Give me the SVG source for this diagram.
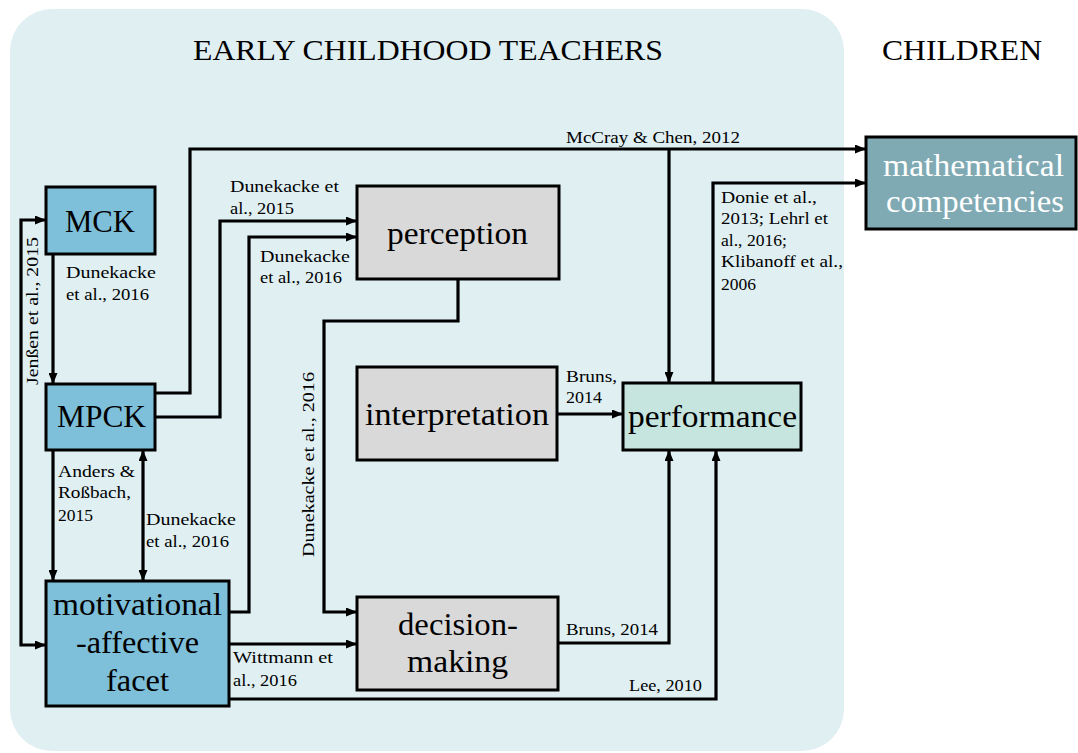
<svg xmlns="http://www.w3.org/2000/svg" width="1078" height="753" viewBox="0 0 1078 753">
<style>
text{font-family:'Liberation Serif','Times New Roman',serif;fill:#000}
.tt{font-size:30px}
.nt{font-size:31px}
.lb{font-size:17px}
.box{stroke:#000;stroke-width:3}
.ln{fill:none;stroke:#000;stroke-width:3.2}
.blue{fill:#7ebfda}
.grey{fill:#d9d9d9}
.teal{fill:#c6e5df}
.dark{fill:#7faab4}
</style>
<defs>
<marker id="ah" viewBox="0 0 10 10" refX="10" refY="5" markerWidth="11" markerHeight="9" preserveAspectRatio="none" markerUnits="userSpaceOnUse" orient="auto-start-reverse"><path d="M0,0 L10,5 L0,10 z" fill="#000"/></marker>
</defs>
<rect x="10" y="9" width="834" height="742" rx="42" fill="#dfeff2"/>
<text class="tt" x="193" y="60" textLength="470" lengthAdjust="spacingAndGlyphs">EARLY CHILDHOOD TEACHERS</text>
<text class="tt" x="882" y="60" textLength="160" lengthAdjust="spacingAndGlyphs">CHILDREN</text>

<g id="mck"><rect class="box blue" x="46" y="187" width="109" height="67"/><text class="nt" x="65" y="232" textLength="70" lengthAdjust="spacingAndGlyphs">MCK</text></g>
<g id="mpck"><rect class="box blue" x="46" y="384" width="109" height="66"/><text class="nt" x="57" y="427" textLength="89" lengthAdjust="spacingAndGlyphs">MPCK</text></g>
<g id="motivational"><rect class="box blue" x="46" y="581" width="183" height="125"/><text class="nt" x="53" y="615" textLength="169" lengthAdjust="spacingAndGlyphs">motivational</text><text class="nt" x="76" y="653" textLength="123" lengthAdjust="spacingAndGlyphs">-affective</text><text class="nt" x="106" y="691" textLength="63" lengthAdjust="spacingAndGlyphs">facet</text></g>
<g id="perception"><rect class="box grey" x="357" y="186" width="202" height="93"/><text class="nt" x="387" y="244" textLength="141" lengthAdjust="spacingAndGlyphs">perception</text></g>
<g id="interpretation"><rect class="box grey" x="357" y="367" width="200" height="93"/><text class="nt" x="365" y="425" textLength="184" lengthAdjust="spacingAndGlyphs">interpretation</text></g>
<g id="decision-making"><rect class="box grey" x="357" y="597" width="201" height="93"/><text class="nt" x="398" y="635" textLength="120" lengthAdjust="spacingAndGlyphs">decision-</text><text class="nt" x="407" y="672" textLength="101" lengthAdjust="spacingAndGlyphs">making</text></g>
<g id="performance"><rect class="box teal" x="623" y="383" width="178" height="67"/><text class="nt" x="628" y="427" textLength="169" lengthAdjust="spacingAndGlyphs">performance</text></g>
<g id="math"><rect class="box dark" x="866" y="137" width="210" height="92"/><text class="nt" x="883" y="176" textLength="181" lengthAdjust="spacingAndGlyphs" style="fill:#fff">mathematical</text><text class="nt" x="886" y="212" textLength="178" lengthAdjust="spacingAndGlyphs" style="fill:#fff">competencies</text></g>

<g id="connectors">
<path class="ln" d="M155,393 H190 V149 H866" marker-end="url(#ah)"/>
<path class="ln" d="M669,149 V383" marker-end="url(#ah)"/>
<path class="ln" d="M155,417 H220 V221 H357" marker-end="url(#ah)"/>
<path class="ln" d="M229,612 H249 V237 H357" marker-end="url(#ah)"/>
<path class="ln" d="M46,220 H21 V645 H46" marker-start="url(#ah)" marker-end="url(#ah)"/>
<path class="ln" d="M53,254 V384" marker-end="url(#ah)"/>
<path class="ln" d="M53,450 V581" marker-end="url(#ah)"/>
<path class="ln" d="M143,450 V581" marker-start="url(#ah)" marker-end="url(#ah)"/>
<path class="ln" d="M458,279 V321 H324 V612 H357" marker-end="url(#ah)"/>
<path class="ln" d="M229,644 H357" marker-end="url(#ah)"/>
<path class="ln" d="M557,414 H623" marker-end="url(#ah)"/>
<path class="ln" d="M558,643 H669 V450" marker-end="url(#ah)"/>
<path class="ln" d="M229,699 H716 V450" marker-end="url(#ah)"/>
<path class="ln" d="M713,383 V183 H866" marker-end="url(#ah)"/>
</g>

<g id="labels">
<text class="lb" transform="translate(38,385) rotate(-90)" textLength="148" lengthAdjust="spacingAndGlyphs">Jenßen et al., 2015</text>
<text class="lb" x="66" y="278" textLength="90" lengthAdjust="spacingAndGlyphs">Dunekacke</text>
<text class="lb" x="66" y="300" textLength="83" lengthAdjust="spacingAndGlyphs">et al., 2016</text>
<text class="lb" x="230" y="192" textLength="109" lengthAdjust="spacingAndGlyphs">Dunekacke et</text>
<text class="lb" x="230" y="214" textLength="64" lengthAdjust="spacingAndGlyphs">al., 2015</text>
<text class="lb" x="260" y="262" textLength="90" lengthAdjust="spacingAndGlyphs">Dunekacke</text>
<text class="lb" x="260" y="283" textLength="82" lengthAdjust="spacingAndGlyphs">et al., 2016</text>
<text class="lb" x="566" y="143" textLength="174" lengthAdjust="spacingAndGlyphs">McCray &amp; Chen, 2012</text>
<text class="lb" x="721" y="203" textLength="96" lengthAdjust="spacingAndGlyphs">Donie et al.,</text>
<text class="lb" x="721" y="224" textLength="107" lengthAdjust="spacingAndGlyphs">2013; Lehrl et</text>
<text class="lb" x="721" y="246" textLength="66" lengthAdjust="spacingAndGlyphs">al., 2016;</text>
<text class="lb" x="721" y="267" textLength="122" lengthAdjust="spacingAndGlyphs">Klibanoff et al.,</text>
<text class="lb" x="721" y="290" textLength="35" lengthAdjust="spacingAndGlyphs">2006</text>
<text class="lb" x="566" y="382" textLength="51" lengthAdjust="spacingAndGlyphs">Bruns,</text>
<text class="lb" x="566" y="403" textLength="36" lengthAdjust="spacingAndGlyphs">2014</text>
<text class="lb" x="58" y="477" textLength="77" lengthAdjust="spacingAndGlyphs">Anders &amp;</text>
<text class="lb" x="58" y="498" textLength="73" lengthAdjust="spacingAndGlyphs">Roßbach,</text>
<text class="lb" x="58" y="521" textLength="35" lengthAdjust="spacingAndGlyphs">2015</text>
<text class="lb" x="146" y="525" textLength="90" lengthAdjust="spacingAndGlyphs">Dunekacke</text>
<text class="lb" x="146" y="547" textLength="83" lengthAdjust="spacingAndGlyphs">et al., 2016</text>
<text class="lb" transform="translate(314,557) rotate(-90)" textLength="185" lengthAdjust="spacingAndGlyphs">Dunekacke et al., 2016</text>
<text class="lb" x="233" y="663" textLength="100" lengthAdjust="spacingAndGlyphs">Wittmann et</text>
<text class="lb" x="233" y="686" textLength="64" lengthAdjust="spacingAndGlyphs">al., 2016</text>
<text class="lb" x="566" y="635" textLength="92" lengthAdjust="spacingAndGlyphs">Bruns, 2014</text>
<text class="lb" x="629" y="691" textLength="73" lengthAdjust="spacingAndGlyphs">Lee, 2010</text>
</g>
</svg>
